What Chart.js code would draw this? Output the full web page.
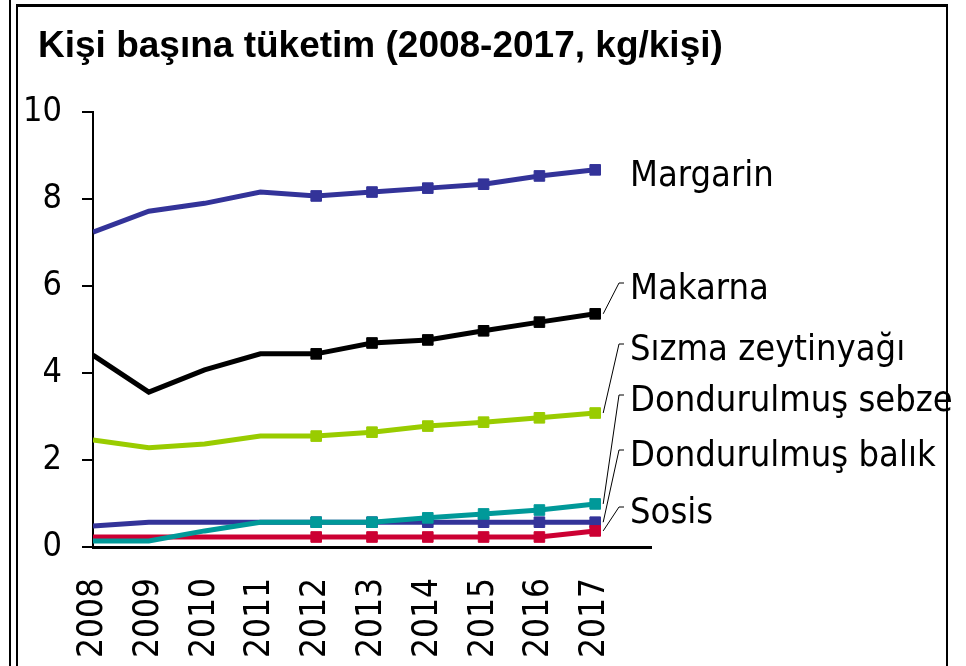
<!DOCTYPE html>
<html>
<head>
<meta charset="utf-8">
<script src="https://cdn.jsdelivr.net/npm/chart.js@4/dist/chart.umd.min.js"></script>
<style>
html, body { margin: 0; padding: 0; background: #fff; }
</style>
</head>
<body>
<canvas id="chart" width="966" height="666"></canvas>
<script>
// values (kg per person)
const years = [2008, 2009, 2010, 2011, 2012, 2013, 2014, 2015, 2016, 2017];
const margarin = [7.24, 7.72, 7.90, 8.16, 8.07, 8.16, 8.25, 8.34, 8.53, 8.67];
const makarna = [4.41, 3.56, 4.07, 4.44, 4.44, 4.69, 4.76, 4.97, 5.17, 5.36];
const sizma = [2.46, 2.28, 2.37, 2.55, 2.55, 2.64, 2.78, 2.87, 2.97, 3.08];
const sebze = [0.14, 0.14, 0.37, 0.57, 0.57, 0.57, 0.67, 0.76, 0.85, 0.99];
const balik = [0.48, 0.57, 0.57, 0.57, 0.57, 0.57, 0.57, 0.57, 0.57, 0.57];
const sosis = [0.23, 0.23, 0.23, 0.23, 0.23, 0.23, 0.23, 0.23, 0.23, 0.37];
const yTicks = [0, 2, 4, 6, 8, 10];
const title = 'Kişi başına tüketim (2008-2017, kg/kişi)';

const markerFrom = 2012; // squares only drawn from this year on

// series: name, values, colour, label baseline (px), leader line?
// first one is drawn on top
const series = [
    { name: 'Dondurulmuş sebze', values: sebze, color: '#009999', textY: 411, leader: true },
    { name: 'Sosis', values: sosis, color: '#CC0033', textY: 523, leader: true },
    { name: 'Dondurulmuş balık', values: balik, color: '#333399', textY: 466, leader: true },
    { name: 'Sızma zeytinyağı', values: sizma, color: '#99CC00', textY: 360, leader: true },
    { name: 'Makarna', values: makarna, color: '#000000', textY: 299, leader: true },
    { name: 'Margarin', values: margarin, color: '#333399', textY: 186, leader: false }
];

const labelFont = '36px "DejaVu Sans Condensed", "DejaVu Sans", sans-serif';

// outer frame and title
const framePlugin = {
    id: 'frame',
    beforeDraw(chart) {
        const ctx = chart.ctx;
        const h = chart.height;
        ctx.save();
        ctx.strokeStyle = '#000';
        ctx.lineWidth = 2;
        ctx.beginPath();
        ctx.moveTo(10, 0); ctx.lineTo(10, h);
        ctx.moveTo(17, 4); ctx.lineTo(17, h);
        ctx.moveTo(947, 4); ctx.lineTo(947, h);
        ctx.stroke();
        ctx.lineWidth = 3;
        ctx.beginPath();
        ctx.moveTo(16, 5.5); ctx.lineTo(948, 5.5);
        ctx.stroke();

        ctx.fillStyle = '#000';
        ctx.font = 'bold 37px "Liberation Sans", Arial, sans-serif';
        ctx.textBaseline = 'alphabetic';
        ctx.fillText(title, 38, 57);
        ctx.restore();
    }
};

// series names at the right end, with thin leader lines
const seriesLabels = {
    id: 'seriesLabels',
    afterDatasetsDraw(chart) {
        const ctx = chart.ctx;
        ctx.save();
        ctx.font = labelFont;
        ctx.fillStyle = '#000';
        ctx.strokeStyle = '#000';
        ctx.lineWidth = 1;
        ctx.textBaseline = 'alphabetic';
        series.forEach((s, i) => {
            const meta = chart.getDatasetMeta(i);
            const last = meta.data[meta.data.length - 1];
            if (s.leader) {
                const top = s.textY - 16;
                ctx.beginPath();
                ctx.moveTo(last.x + 8, last.y);
                ctx.lineTo(619, top);
                ctx.lineTo(624, top);
                ctx.stroke();
            }
            ctx.fillText(s.name, 630, s.textY);
        });
        ctx.restore();
    }
};

const ctx = document.getElementById('chart').getContext('2d');
new Chart(ctx, {
    type: 'line',
    data: {
        datasets: series.map(s => ({
            label: s.name,
            data: years.map((yr, i) => ({ x: yr, y: s.values[i] })),
            borderColor: s.color,
            backgroundColor: s.color,
            borderWidth: 5,
            tension: 0,
            pointStyle: 'rect',
            pointRadius: years.map(yr => yr >= markerFrom ? 7.5 : 0),
            pointBorderWidth: 1,
            pointBorderColor: s.color,
            pointBackgroundColor: s.color
        }))
    },
    options: {
        responsive: false,
        animation: false,
        events: [],
        layout: { padding: { top: 112, right: 315, bottom: 0, left: 0 } },
        plugins: {
            legend: { display: false },
            title: { display: false },
            tooltip: { enabled: false }
        },
        scales: {
            x: {
                type: 'linear',
                min: years[0],
                max: years[years.length - 1] + 1,
                afterFit(scale) { scale.height = 119; },
                grid: { display: true, drawOnChartArea: false, drawTicks: false },
                border: { color: '#000', width: 3 },
                ticks: {
                    stepSize: 1,
                    autoSkip: false,
                    minRotation: 90,
                    maxRotation: 90,
                    padding: 31,
                    color: '#000',
                    font: { family: '"DejaVu Sans Condensed", "DejaVu Sans", sans-serif', size: 35 },
                    callback: v => years.includes(v) ? String(v) : null
                }
            },
            y: {
                min: yTicks[0],
                max: yTicks[yTicks.length - 1],
                afterFit(scale) { scale.width = 93; },
                afterBuildTicks(scale) { scale.ticks = yTicks.map(v => ({ value: v })); },
                grid: { drawOnChartArea: false, drawTicks: true, tickLength: 11, color: '#000', lineWidth: 2 },
                border: { color: '#000', width: 2 },
                ticks: {
                    padding: 20,
                    color: '#000',
                    font: { family: '"DejaVu Sans Condensed", "DejaVu Sans", sans-serif', size: 34 },
                    callback: v => String(v)
                }
            }
        }
    },
    plugins: [framePlugin, seriesLabels]
});
</script>
</body>
</html>
